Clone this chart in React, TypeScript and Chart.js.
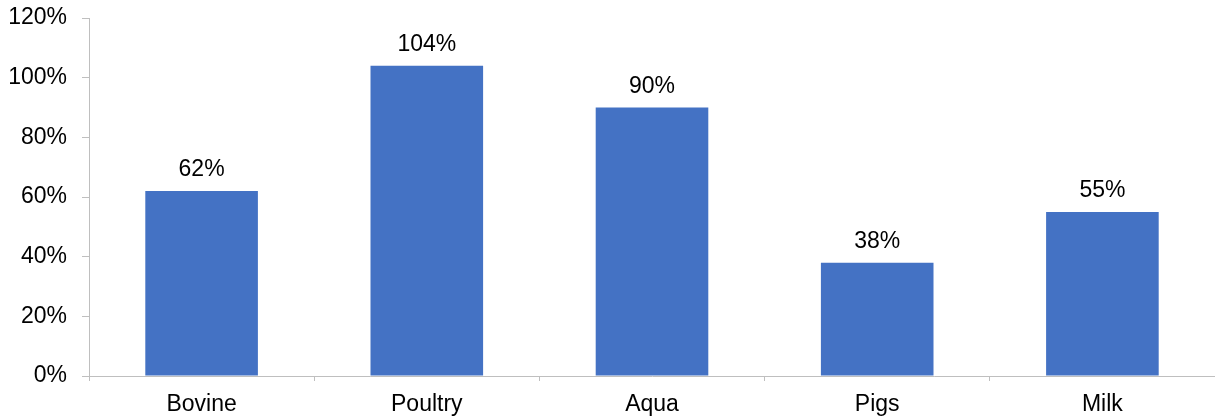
import React, { useEffect, useRef } from "react";
import { Chart, registerables } from "chart.js";

Chart.register(...registerables);

const categories = ["Bovine", "Poultry", "Aqua", "Pigs", "Milk"];
const values = [62, 104, 90, 38, 55];
const yTicks = [0, 20, 40, 60, 80, 100, 120];

const FONT = "'Liberation Sans', Arial, sans-serif";
const AXIS = "#BFBFBF";

const labelPlugin = {
  id: "barLabels",
  afterDatasetsDraw(chart: any) {
    const ctx = chart.ctx;
    const meta = chart.getDatasetMeta(0);
    ctx.save();
    ctx.font = `23px ${FONT}`;
    ctx.fillStyle = "#000000";
    ctx.textAlign = "center";
    ctx.textBaseline = "alphabetic";
    meta.data.forEach((bar: any, i: number) => {
      ctx.fillText(values[i] + "%", bar.x, bar.y - 15);
    });
    ctx.restore();
  },
};

export default function App() {
  const ref = useRef<HTMLCanvasElement>(null);
  useEffect(() => {
    document.body.style.margin = "0";
    const chart = new Chart(ref.current!, {
      type: "bar",
      data: {
        labels: categories,
        datasets: [
          {
            data: values,
            backgroundColor: "#4472C4",
            borderWidth: 0,
            barPercentage: 0.5,
            categoryPercentage: 1,
          },
        ],
      },
      options: {
        animation: false,
        responsive: false,
        maintainAspectRatio: false,
        layout: { padding: { top: 18, right: 0, left: 0, bottom: 0 } },
        plugins: { legend: { display: false }, tooltip: { enabled: false } },
        scales: {
          x: {
            grid: {
              drawOnChartArea: false,
              drawTicks: true,
              tickLength: 5,
              color: AXIS,
              offset: true,
            },
            border: { display: true, color: AXIS, width: 1 },
            ticks: {
              font: { family: FONT, size: 23 },
              color: "#000000",
              padding: 10,
              maxRotation: 0,
            },
            afterFit: (s: any) => {
              s.height = 42;
              s.paddingLeft = 0;
              s.paddingRight = 0;
            },
          },
          y: {
            min: 0,
            max: 120,
            afterBuildTicks: (s: any) => {
              s.ticks = yTicks.map((v) => ({ value: v }));
            },
            grid: {
              drawOnChartArea: false,
              drawTicks: true,
              tickLength: 7,
              color: AXIS,
            },
            border: { display: true, color: AXIS, width: 1 },
            ticks: {
              font: { family: FONT, size: 23 },
              color: "#000000",
              padding: 15,
              callback: (v: any) => v + "%",
            },
            afterFit: (s: any) => {
              s.width = 89;
              s.paddingTop = 0;
              s.paddingBottom = 0;
            },
          },
        },
      },
      plugins: [labelPlugin],
    });
    return () => chart.destroy();
  }, []);
  return (
    <div style={{ width: 1215, height: 418 }}>
      <canvas ref={ref} width={1215} height={418} style={{ display: "block" }} />
    </div>
  );
}
